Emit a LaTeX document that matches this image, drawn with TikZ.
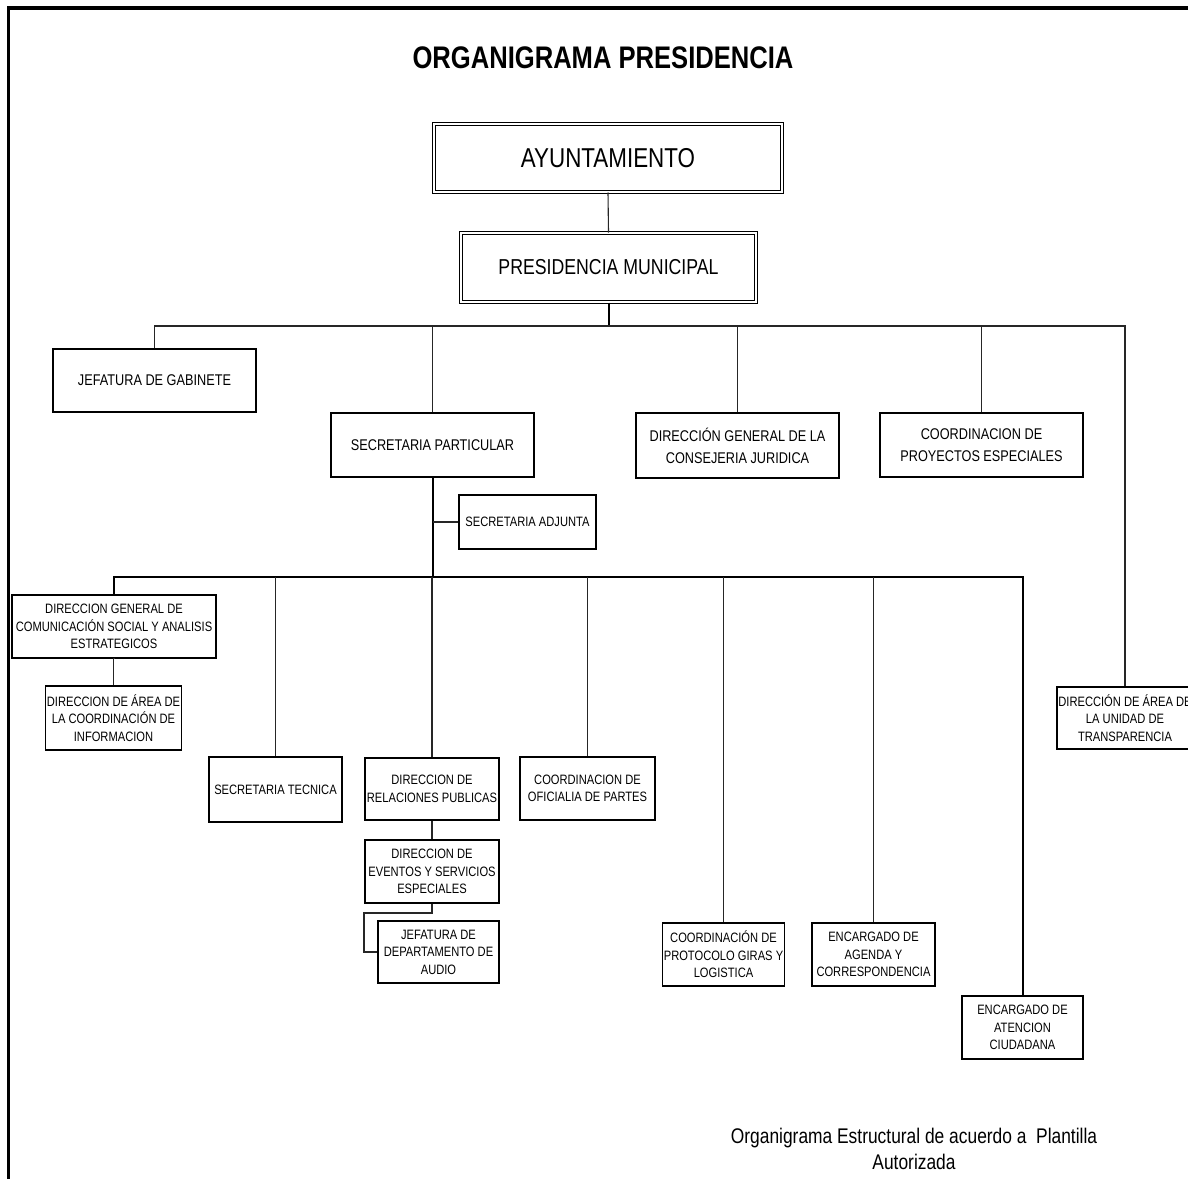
\documentclass[tikz,border=0pt]{standalone}
\usepackage{fontspec}
\setmainfont[FakeStretch=0.82]{Liberation Sans}
\begin{document}
\begin{tikzpicture}[x=1pt,y=-1pt,
  box/.style={draw=black,line width=1.2pt,align=center,inner sep=1pt,font=\fontsize{13.6}{17.5}\selectfont},
  mbox/.style={draw=black,line width=1.2pt,align=center,inner sep=1pt,font=\fontsize{15.5}{22}\selectfont},
  dbox/.style={draw=black,double=white,double distance=2pt,line width=1pt,align=center,inner sep=1pt},
  conn/.style={line width=1.1pt,draw=black!85},
  trunk/.style={line width=2pt,draw=black}]
\clip (0,0) rectangle (1188,1178);
\fill[white] (0,0) rectangle (1188,1178);
% frame
\draw[line width=3.2pt] (7,8) -- (1190,8);
\draw[line width=3.2pt] (8.5,8) -- (8.5,1180);
% title
\node[font=\fontsize{31.2}{36}\selectfont\bfseries] (title) at (603,58) {ORGANIGRAMA PRESIDENCIA};
% main boxes
\node[dbox,minimum width=348pt,minimum height=68pt,font=\fontsize{27.3}{30}\selectfont] (ayun) at (608,158) {AYUNTAMIENTO};
\node[dbox,minimum width=295pt,minimum height=69pt,font=\fontsize{21.6}{26}\selectfont] (pres) at (608.5,267.5) {PRESIDENCIA MUNICIPAL};
\node[mbox,minimum width=203pt,minimum height=63pt] (jef) at (154.5,380.5) {JEFATURA DE GABINETE};
\node[mbox,minimum width=203pt,minimum height=64pt] (secp) at (432.5,445) {SECRETARIA PARTICULAR};
\node[mbox,minimum width=203pt,minimum height=65pt] (cons) at (737.5,445.5) {DIRECCIÓN GENERAL DE LA\\CONSEJERIA JURIDICA};
\node[mbox,minimum width=203pt,minimum height=64pt] (proy) at (981.5,445) {COORDINACION DE\\PROYECTOS ESPECIALES};
\node[box,minimum width=137pt,minimum height=54pt] (adj) at (527.5,522) {SECRETARIA ADJUNTA};
\node[box,minimum width=204pt,minimum height=63pt] (com) at (114,626.5) {DIRECCION GENERAL DE\\COMUNICACIÓN SOCIAL Y ANALISIS\\ESTRATEGICOS};
\node[box,minimum width=136pt,minimum height=64pt] (area) at (113.5,718) {DIRECCION DE ÁREA DE\\LA COORDINACIÓN DE\\INFORMACION};
\node[box,minimum width=133pt,minimum height=65pt] (tec) at (275.5,789.5) {SECRETARIA TECNICA};
\node[box,minimum width=134pt,minimum height=62pt] (rel) at (432,789) {DIRECCION DE\\RELACIONES PUBLICAS};
\node[box,minimum width=135pt,minimum height=63pt] (ofi) at (587.5,788.5) {COORDINACION DE\\OFICIALIA DE PARTES};
\node[box,minimum width=134pt,minimum height=63pt] (eve) at (432,871.5) {DIRECCION DE\\EVENTOS Y SERVICIOS\\ESPECIALES};
\node[box,minimum width=121pt,minimum height=62pt] (aud) at (438.5,952) {JEFATURA DE\\DEPARTAMENTO DE\\AUDIO};
\node[box,minimum width=121pt,minimum height=63pt] (pro) at (723.5,954.5) {COORDINACIÓN DE\\PROTOCOLO GIRAS Y\\LOGISTICA};
\node[box,minimum width=123pt,minimum height=63pt] (age) at (873.5,954.5) {ENCARGADO DE\\AGENDA Y\\CORRESPONDENCIA};
\node[box,minimum width=121pt,minimum height=63pt] (ate) at (1022.5,1027.5) {ENCARGADO DE\\ATENCION\\CIUDADANA};
\node[box,minimum width=136pt,minimum height=62pt] (tra) at (1125,718) {DIRECCIÓN DE ÁREA DE\\LA UNIDAD DE\\TRANSPARENCIA};
% footer
\node[align=center,font=\fontsize{21.2}{26}\selectfont] (foot) at (914,1149) {Organigrama Estructural de acuerdo a~~Plantilla\\Autorizada};
% connectors
\coordinate (busA) at (608.5,326);
\coordinate (busB) at (432.5,577);
\draw[conn] (ayun.south) -- (pres.north);
\draw[trunk] (pres.south) -- (busA);
\draw[conn] (jef.north) |- (busA);
\draw[conn] (busA) -| (tra.north);
\draw[conn] (secp.north) -- (secp.north |- busA);
\draw[conn] (cons.north) -- (cons.north |- busA);
\draw[conn] (proy.north) -- (proy.north |- busA);
\draw[trunk] (secp.south) -- (busB);
\draw[conn] (adj.west) -- (adj.west -| secp.south);
\draw[trunk] (com.north) |- (busB);
\draw[trunk] (busB) -| (ate.north);
\draw[conn] (tec.north) -- (tec.north |- busB);
\draw[conn] (rel.north) -- (rel.north |- busB);
\draw[conn] (ofi.north) -- (ofi.north |- busB);
\draw[conn] (pro.north) -- (pro.north |- busB);
\draw[conn] (age.north) -- (age.north |- busB);
\draw[conn] (com.south) -- (com.south -| area.north) -- (area.north);
\draw[conn] (rel.south) -- (eve.north);
\coordinate (audA) at (432,913);
\coordinate (audB) at (364,913);
\draw[conn] (eve.south) -- (audA) -- (audB) |- (aud.west);
\end{tikzpicture}
\end{document}
